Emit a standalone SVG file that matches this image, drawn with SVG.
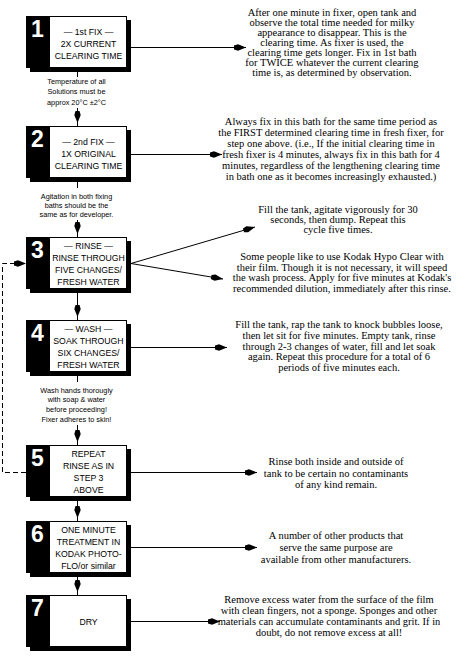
<svg xmlns="http://www.w3.org/2000/svg" width="465" height="656" viewBox="0 0 465 656">
<defs>
<style>
.shadow{fill:#000}
.panel{fill:#000}
.face{fill:#fff;stroke:#000;stroke-width:1}
.num{font-family:"Liberation Sans",Arial,sans-serif;font-size:23px;font-weight:bold;fill:#fff}
.lbl{font-family:"Liberation Sans",Arial,sans-serif;font-size:8.7px;fill:#000;text-anchor:middle}
.note{font-family:"Liberation Sans",Arial,sans-serif;font-size:7.3px;fill:#000;text-anchor:middle}
.desc{font-family:"Liberation Serif","Times New Roman",serif;font-size:10.5px;fill:#000;text-anchor:middle}
.ln{stroke:#000;stroke-width:1;fill:none}
.dash{stroke-dasharray:5 3}
</style>
<polygon id="ah" points="-12,-2 -8,-3.2 0,0 -8,3.2 -12,2" fill="#000"/>
</defs>
<rect width="465" height="656" fill="#fff"/>

<g id="step1">
<rect class="shadow" x="30" y="20" width="101" height="52"/>
<rect class="face" x="26.5" y="16.5" width="100" height="51"/>
<rect class="panel" x="26" y="16" width="24" height="52"/>
<text class="num" x="31" y="36.5">1</text>
<text class="lbl" x="88.5" y="35.3">— 1st FIX —</text>
<text class="lbl" x="88.5" y="47">2X CURRENT</text>
<text class="lbl" x="88.5" y="58.6">CLEARING TIME</text>
</g>

<g id="step2">
<rect class="shadow" x="30" y="130" width="101" height="52"/>
<rect class="face" x="26.5" y="126.5" width="100" height="51"/>
<rect class="panel" x="26" y="126" width="24" height="52"/>
<text class="num" x="31" y="146.5">2</text>
<text class="lbl" x="88.5" y="145.3">— 2nd FIX —</text>
<text class="lbl" x="88.5" y="157">1X ORIGINAL</text>
<text class="lbl" x="88.5" y="168.6">CLEARING TIME</text>
</g>

<g id="step3">
<rect class="shadow" x="30" y="241" width="101" height="52"/>
<rect class="face" x="26.5" y="237.5" width="100" height="51"/>
<rect class="panel" x="26" y="237" width="24" height="52"/>
<text class="num" x="31" y="257.5">3</text>
<text class="lbl" x="88.5" y="249.3">— RINSE —</text>
<text class="lbl" x="88.5" y="261.3">RINSE THROUGH</text>
<text class="lbl" x="88.5" y="273.3">FIVE CHANGES/</text>
<text class="lbl" x="88.5" y="285">FRESH WATER</text>
</g>

<g id="step4">
<rect class="shadow" x="30" y="324" width="101" height="52"/>
<rect class="face" x="26.5" y="320.5" width="100" height="51"/>
<rect class="panel" x="26" y="320" width="24" height="52"/>
<text class="num" x="31" y="340.5">4</text>
<text class="lbl" x="88.5" y="332.3">— WASH —</text>
<text class="lbl" x="88.5" y="344.3">SOAK THROUGH</text>
<text class="lbl" x="88.5" y="356.3">SIX CHANGES/</text>
<text class="lbl" x="88.5" y="368">FRESH WATER</text>
</g>

<g id="step5">
<rect class="shadow" x="30" y="449" width="101" height="52"/>
<rect class="face" x="26.5" y="445.5" width="100" height="51"/>
<rect class="panel" x="26" y="445" width="24" height="52"/>
<text class="num" x="31" y="465.5">5</text>
<text class="lbl" x="88.5" y="457.3">REPEAT</text>
<text class="lbl" x="88.5" y="469.3">RINSE AS IN</text>
<text class="lbl" x="88.5" y="481.3">STEP 3</text>
<text class="lbl" x="88.5" y="493">ABOVE</text>
</g>

<g id="step6">
<rect class="shadow" x="30" y="525" width="101" height="52"/>
<rect class="face" x="26.5" y="521.5" width="100" height="51"/>
<rect class="panel" x="26" y="521" width="24" height="52"/>
<text class="num" x="31" y="541.5">6</text>
<text class="lbl" x="88.5" y="533.3">ONE MINUTE</text>
<text class="lbl" x="88.5" y="545.3">TREATMENT IN</text>
<text class="lbl" x="88.5" y="557.3">KODAK PHOTO-</text>
<text class="lbl" x="88.5" y="569">FLO/or similar</text>
</g>

<g id="step7">
<rect class="shadow" x="30" y="599" width="101" height="52"/>
<rect class="face" x="26.5" y="595.5" width="100" height="51"/>
<rect class="panel" x="26" y="595" width="24" height="52"/>
<text class="num" x="31" y="615.5">7</text>
<text class="lbl" x="88.5" y="625">DRY</text>
</g>

<g id="notes">
<text class="note" x="76.5" y="83.7">Temperature of all</text>
<text class="note" x="76.5" y="94.4">Solutions must be</text>
<text class="note" x="76.5" y="105.4">approx 20°C ±2°C</text>
<text class="note" x="76.5" y="198.5">Agitation in both fixing</text>
<text class="note" x="76.5" y="207.8">baths should be the</text>
<text class="note" x="76.5" y="217">same as for developer.</text>
<text class="note" x="76.5" y="392.7">Wash hands thorougly</text>
<text class="note" x="76.5" y="402.4">with soap &amp; water</text>
<text class="note" x="76.5" y="412">before proceeding!</text>
<text class="note" x="76.5" y="422">Fixer adheres to skin!</text>
</g>

<g id="descriptions">
<text class="desc" x="332" y="16">After one minute in fixer, open tank and</text>
<text class="desc" x="332" y="26">observe the total time needed for milky</text>
<text class="desc" x="332" y="36">appearance to disappear. This is the</text>
<text class="desc" x="332" y="46">clearing time. As fixer is used, the</text>
<text class="desc" x="332" y="56">clearing time gets longer. Fix in 1st bath</text>
<text class="desc" x="332" y="66">for TWICE whatever the current clearing</text>
<text class="desc" x="332" y="76">time is, as determined by observation.</text>

<text class="desc" x="331" y="125.3">Always fix in this bath for the same time period as</text>
<text class="desc" x="331" y="136.3">the FIRST determined clearing time in fresh fixer, for</text>
<text class="desc" x="331" y="147.3">step one above. (i.e., If the initial clearing time in</text>
<text class="desc" x="331" y="158">fresh fixer is 4 minutes, always fix in this bath for 4</text>
<text class="desc" x="331" y="169">minutes, regardless of the lengthening clearing time</text>
<text class="desc" x="331" y="179.7">in bath one as it becomes increasingly exhausted.)</text>

<text class="desc" x="338" y="213">Fill the tank, agitate vigorously for 30</text>
<text class="desc" x="338" y="223">seconds, then dump. Repeat this</text>
<text class="desc" x="338" y="233">cycle five times.</text>

<text class="desc" x="342" y="260">Some people like to use Kodak Hypo Clear with</text>
<text class="desc" x="342" y="270.7">their film. Though it is not necessary, it will speed</text>
<text class="desc" x="342" y="281">the wash process. Apply for five minutes at Kodak's</text>
<text class="desc" x="342" y="291.5">recommended dilution, immediately after this rinse.</text>

<text class="desc" x="339" y="328">Fill the tank, rap the tank to knock bubbles loose,</text>
<text class="desc" x="339" y="339">then let sit for five minutes. Empty tank, rinse</text>
<text class="desc" x="339" y="349.7">through 2-3 changes of water, fill and let soak</text>
<text class="desc" x="339" y="360">again. Repeat this procedure for a total of 6</text>
<text class="desc" x="339" y="371">periods of five minutes each.</text>

<text class="desc" x="336" y="465">Rinse both inside and outside of</text>
<text class="desc" x="336" y="476.5">tank to be certain no contaminants</text>
<text class="desc" x="336" y="488">of any kind remain.</text>

<text class="desc" x="336" y="538.7">A number of other products that</text>
<text class="desc" x="336" y="550.7">serve the same purpose are</text>
<text class="desc" x="336" y="562.7">available from other manufacturers.</text>

<text class="desc" x="329" y="603">Remove excess water from the surface of the film</text>
<text class="desc" x="329" y="614.3">with clean fingers, not a sponge. Sponges and other</text>
<text class="desc" x="329" y="625">materials can accumulate contaminants and grit. If in</text>
<text class="desc" x="329" y="636">doubt, do not remove excess at all!</text>
</g>

<g id="connectors">
<path class="ln" d="M77.5,72 V77 M77.5,108 V126 M77.5,182 V188 M77.5,220 V237 M77.5,293 V320 M77.5,376 V382 M77.5,425 V445 M77.5,501 V521 M77.5,577 V595"/>
<use href="#ah" transform="translate(77.5,123) rotate(90)"/>
<use href="#ah" transform="translate(77.5,234) rotate(90)"/>
<use href="#ah" transform="translate(77.5,317) rotate(90)"/>
<use href="#ah" transform="translate(77.5,442) rotate(90)"/>
<use href="#ah" transform="translate(77.5,518) rotate(90)"/>
<use href="#ah" transform="translate(77.5,592) rotate(90)"/>

<path class="ln" d="M131,47.5 H246 M131,154.5 H222 M131,263.5 L255,227 M131,263.5 L223,279 M131,347.5 H227 M131,472.5 H257 M131,547.5 H257 M131,621.5 H220"/>
<use href="#ah" transform="translate(246,47.5)"/>
<use href="#ah" transform="translate(222,154.5)"/>
<use href="#ah" transform="translate(255,227) rotate(-16.4)"/>
<use href="#ah" transform="translate(223,279) rotate(9.6)"/>
<use href="#ah" transform="translate(227,347.5)"/>
<use href="#ah" transform="translate(257,472.5)"/>
<use href="#ah" transform="translate(257,547.5)"/>
<use href="#ah" transform="translate(220,621.5)"/>

<path class="ln dash" d="M26,472.5 H2.5 V263.5 H24"/>
<use href="#ah" transform="translate(26,263.5)"/>
</g>
</svg>
